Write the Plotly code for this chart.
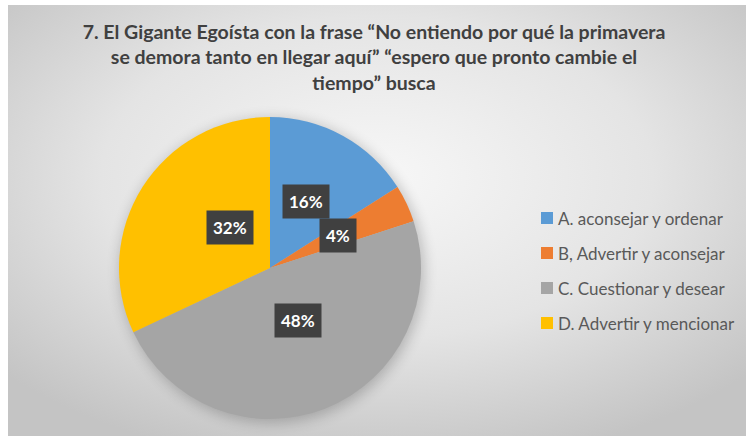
import base64
import math

import plotly.graph_objects as go

TITLE = (
    "7. El Gigante Egoísta con la frase “No entiendo por qué la primavera<br>"
    "se demora tanto en llegar aquí” “espero que pronto cambie el<br>"
    "tiempo” busca"
)
LABELS = [
    "A. aconsejar y ordenar",
    "B, Advertir y aconsejar",
    "C. Cuestionar y desear",
    "D. Advertir y mencionar",
]
VALUES = [16, 4, 48, 32]
COLORS = ["#5B9BD5", "#ED7D31", "#A5A5A5", "#FFC000"]

W, H = 746, 436
FONT = "Lato"
TEXT = "#404040"

# pie placement in pixels (margins are zero, so paper == pixels)
CX, CY, R = 270, 268, 151
dom_x = [(CX - R) / W, (CX + R) / W]
dom_y = [1 - (CY + R) / H, 1 - (CY - R) / H]

# radial grey background as an inline svg, with a soft shadow under the pie
svg = f"""<svg xmlns="http://www.w3.org/2000/svg" width="738" height="431" viewBox="0 0 738 431" preserveAspectRatio="none">
<defs>
<radialGradient id="g" cx="50%" cy="40%" r="68%">
<stop offset="0" stop-color="#f7f7f7"/>
<stop offset="0.55" stop-color="#e4e4e4"/>
<stop offset="1" stop-color="#c4c4c4"/>
</radialGradient>
<filter id="b" x="-20%" y="-20%" width="140%" height="140%"><feGaussianBlur stdDeviation="7"/></filter>
</defs>
<rect width="738" height="431" fill="url(#g)"/>
<circle cx="{CX - 8 + 2}" cy="{CY - 5 + 3}" r="{R + 1}" fill="#000" opacity="0.22" filter="url(#b)"/>
</svg>"""
bg_src = "data:image/svg+xml;base64," + base64.b64encode(svg.encode()).decode()

fig = go.Figure(
    go.Pie(
        labels=LABELS,
        values=VALUES,
        sort=False,
        direction="clockwise",
        rotation=0,
        marker=dict(colors=COLORS, line=dict(width=0)),
        textinfo="none",
        hoverinfo="label+percent",
        domain=dict(x=dom_x, y=dom_y),
        showlegend=False,
    )
)

# dark percentage tags at half radius of each slice
total = sum(VALUES)
cum = 0
for v in VALUES:
    mid = (cum + v / 2) / total * 2 * math.pi
    cum += v
    px_ = CX + 0.5 * R * math.sin(mid)
    py_ = CY - 0.5 * R * math.cos(mid)
    fig.add_annotation(
        x=px_ / W,
        y=1 - py_ / H,
        xref="paper",
        yref="paper",
        text=f"<b>{round(v / total * 100)}%</b>",
        showarrow=False,
        font=dict(family=FONT, size=17, color="white"),
        bgcolor="#404040",
        borderpad=6,
    )

# legend drawn by hand so the row spacing can match the original
LEG_X, LEG_Y0, LEG_DY, SQ = 541, 218, 35, 12
for i, (lab, col) in enumerate(zip(LABELS, COLORS)):
    yc = LEG_Y0 + i * LEG_DY
    fig.add_shape(
        type="rect",
        xref="paper",
        yref="paper",
        x0=LEG_X / W,
        x1=(LEG_X + SQ) / W,
        y0=1 - (yc + SQ / 2) / H,
        y1=1 - (yc - SQ / 2) / H,
        fillcolor=col,
        line=dict(width=0),
    )
    fig.add_annotation(
        x=(LEG_X + SQ + 3) / W,
        y=1 - yc / H,
        xref="paper",
        yref="paper",
        xanchor="left",
        yanchor="middle",
        text=lab,
        showarrow=False,
        font=dict(family=FONT, size=17, color="#595959"),
    )

fig.add_layout_image(
    source=bg_src,
    xref="paper",
    yref="paper",
    x=8 / W,
    y=1 - 5 / H,
    sizex=1 - 8 / W,
    sizey=1 - 5 / H,
    xanchor="left",
    yanchor="top",
    sizing="stretch",
    layer="below",
)

fig.update_layout(
    width=W,
    height=H,
    margin=dict(l=0, r=0, t=0, b=0),
    paper_bgcolor="white",
    plot_bgcolor="rgba(0,0,0,0)",
    font=dict(family=FONT, color=TEXT),
    title=dict(
        text=f"<b>{TITLE}</b>",
        x=374 / W,
        xanchor="center",
        y=1 - 39 / H,
        yanchor="top",
        font=dict(family=FONT, size=19.5, color=TEXT),
    ),
)

fig.write_html(
    "out.html",
    config={"displayModeBar": False},
    post_script="document.body.style.margin='0';",
)
